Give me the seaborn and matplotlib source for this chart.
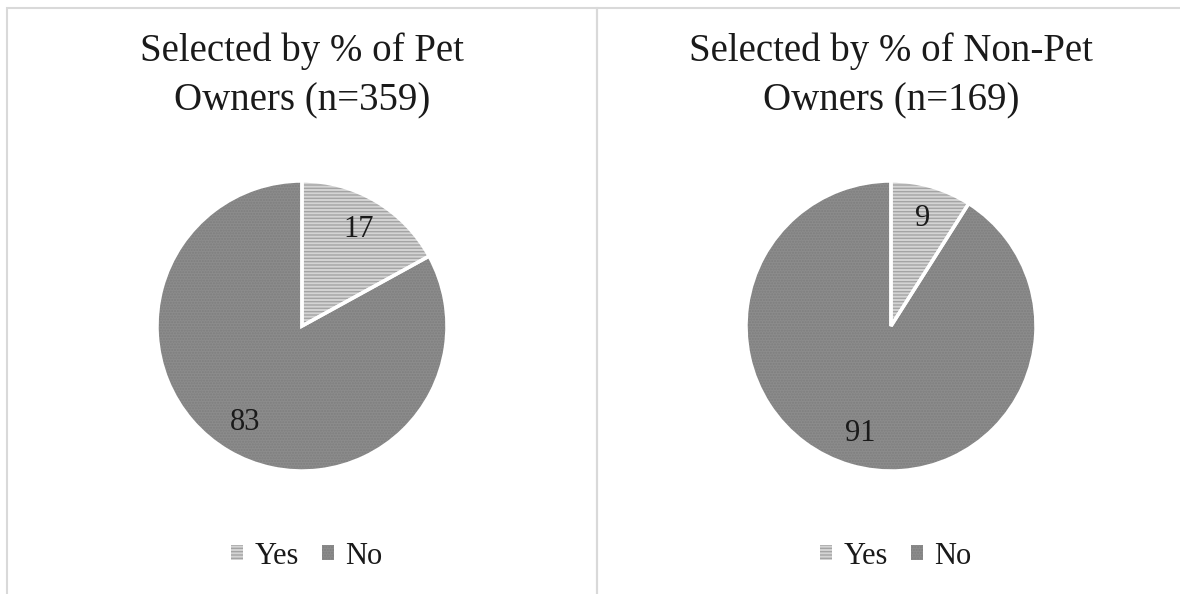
import matplotlib
matplotlib.use("Agg")
import matplotlib.pyplot as plt
import seaborn as sns
from matplotlib.patches import Patch, Rectangle

sns.set_theme(style="white")
plt.rcParams["font.family"] = ["Liberation Serif", "DejaVu Serif"]

categories = ["Yes", "No"]
pet_owners = [17, 83]
non_pet_owners = [9, 91]
titles = ["Selected by % of Pet\nOwners (n=359)", "Selected by % of Non-Pet\nOwners (n=169)"]

face_colors = ["#d4d4d4", "#8c8c8c"]
hatch_colors = ["#a4a4a4", "#7e7e7e"]
hatches = ["-----", "......"]
text_color = "#1a1a1a"

W, H = 1180, 594
fig = plt.figure(figsize=(W / 100, H / 100), dpi=100)
fig.patch.set_facecolor("white")

# panel borders
for x0, x1 in [(7, 597), (597, 1200)]:
    fig.add_artist(Rectangle((x0 / W, -0.05), (x1 - x0) / W, (H - 8) / H + 0.05,
                             transform=fig.transFigure, fill=False,
                             edgecolor="#d9d9d9", linewidth=1.5))

centers = [302, 891]
radius = 145
cy = 326
series = [pet_owners, non_pet_owners]

for cx, vals, title in zip(centers, series, titles):
    ax = fig.add_axes([(cx - radius) / W, (H - cy - radius) / H, 2 * radius / W, 2 * radius / H])
    wedges, texts, autotexts = ax.pie(
        vals, startangle=90, counterclock=False, colors=face_colors,
        autopct=lambda p: f"{p:.0f}", pctdistance=0.77,
        wedgeprops=dict(linewidth=0),
        textprops=dict(fontsize=22, color=text_color))
    for w, hc, h in zip(wedges, hatch_colors, hatches):
        w.set_edgecolor(hc)
        w.set_hatch(h)
        w.set_linewidth(0)
    # white separators
    ax.pie(vals, startangle=90, counterclock=False,
           wedgeprops=dict(fill=False, edgecolor="white", linewidth=2.5))
    ax.set_xlim(-1, 1)
    ax.set_ylim(-1, 1)
    ax.set_aspect("equal")
    ax.axis("off")
    fig.text(cx / W, (H - 76) / H, title, ha="center", va="center",
             fontsize=28, color=text_color, linespacing=1.45)
    handles = [Patch(facecolor=face_colors[i], edgecolor=hatch_colors[i], hatch=hatches[i],
                     linewidth=0, label=categories[i]) for i in range(2)]
    fig.legend(handles=handles, loc="center", bbox_to_anchor=((cx + 5) / W, (H - 556) / H),
               ncol=2, frameon=False, fontsize=22, handlelength=0.38, handleheight=0.38,
               handletextpad=0.39, columnspacing=0.75, labelcolor=text_color,
               borderpad=0, borderaxespad=0)

fig.savefig("out.png", dpi=100, facecolor="white")
